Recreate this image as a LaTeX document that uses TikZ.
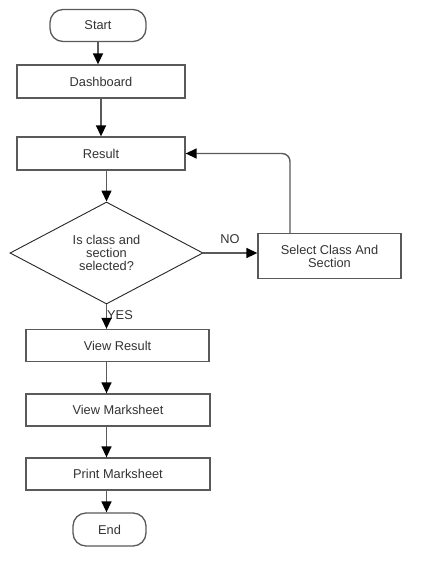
\documentclass[tikz,border=0pt]{standalone}
\usepackage{fontspec}
\setmainfont{Liberation Sans}
\usetikzlibrary{shapes.geometric,arrows.meta}
\definecolor{linegray}{HTML}{5A5A5A}
\definecolor{textgray}{HTML}{333333}
\begin{document}
\begin{tikzpicture}[x=1pt,y=-1pt,
  base/.style={draw=linegray, line width=1.3pt, inner sep=0pt, text=textgray,
    font=\fontsize{12.8}{13}\selectfont, align=center},
  stepbox/.style={base, rectangle, minimum width=#1, minimum height=32pt},
  term/.style={base, rectangle, rounded corners=13pt, minimum height=32pt, minimum width=#1},
  decision/.style={base, diamond, draw=black!85, line width=0.9pt, aspect=1.9,
    minimum width=193pt, minimum height=102pt},
  flow/.style={draw=linegray, line width=1.4pt, -{Triangle[length=11pt,width=10pt,color=black,fill=black]}},
  lbl/.style={text=textgray, font=\fontsize{12.8}{13}\selectfont, inner sep=0pt}
]
\useasboundingbox[fill=white] (0,0) rectangle (441,586);

\node[term=96pt] (start) at (98,25.5) {Start};
\node[stepbox=168pt, minimum height=33pt] (dash) at (101,81.5) {Dashboard};
\node[stepbox=168pt, minimum height=33pt] (res) at (101,153.5) {Result};
\node[decision] (dia) at (106.5,253) {Is class and\\section\\selected?};
\node[stepbox=143pt, minimum height=45pt] (sel) at (329.5,256) {Select Class And\\Section};
\node[stepbox=183pt] (vr) at (117.5,345.5) {View Result};
\node[stepbox=184pt] (vm) at (118,410) {View Marksheet};
\node[stepbox=184pt] (pm) at (118,474) {Print Marksheet};
\node[term=73pt, minimum height=33pt] (end) at (109.5,529.5) {End};

\node[lbl] (no) at (230,239.5) {NO};
\node[lbl] (yes) at (120,315) {YES};

\draw[flow] (start.south) -- (start.south |- dash.north);
\draw[flow] (dash.south) -- (res.north);
\draw[flow] (res.south -| dia.north) -- (dia.north);
\draw[flow] (dia.east) -- (dia.east -| sel.west);
\coordinate (loopx) at (290,0);
\draw[flow, rounded corners=8pt] (sel.north -| loopx) -- (loopx |- res.east) -- (res.east);
\draw[flow] (dia.south) -- (dia.south |- vr.north);
\draw[flow] (vr.south -| dia.south) -- (vm.north -| dia.south);
\draw[flow] (vm.south -| dia.south) -- (pm.north -| dia.south);
\draw[flow] (pm.south -| dia.south) -- (end.north -| dia.south);
\end{tikzpicture}
\end{document}
